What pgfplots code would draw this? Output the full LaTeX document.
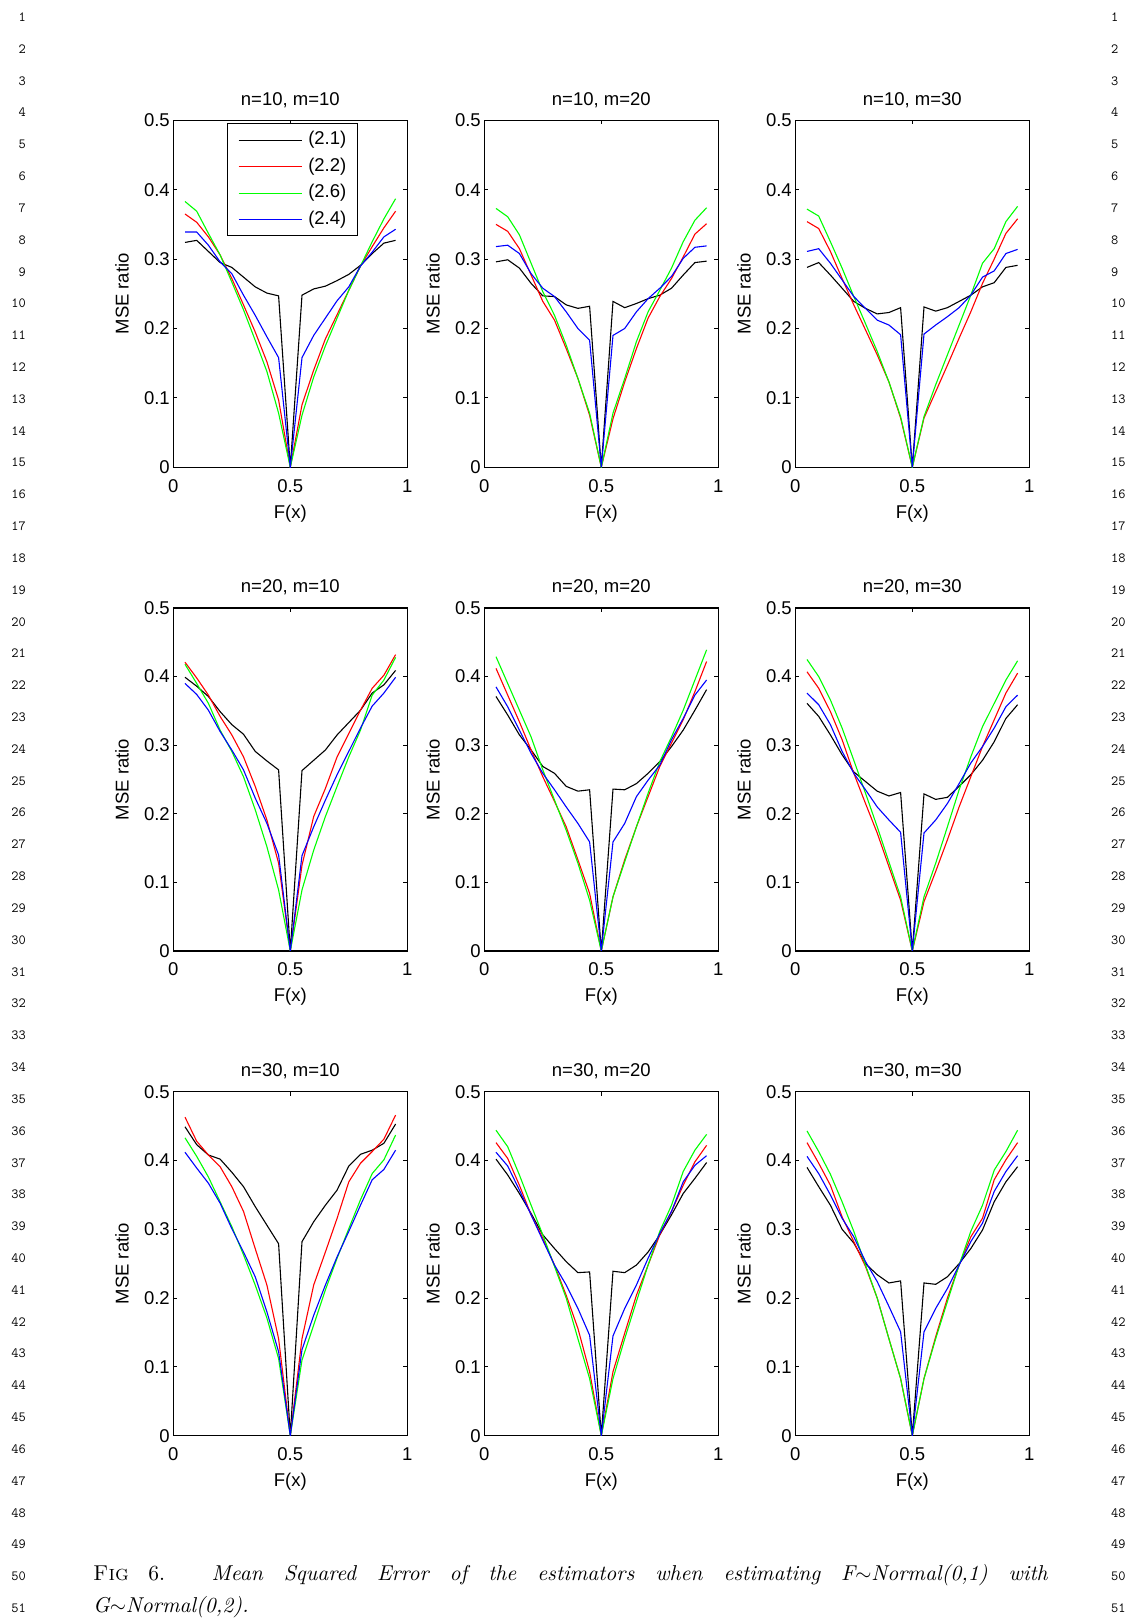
\documentclass[border=0pt]{standalone}
\usepackage{fontspec}
\usepackage{pgfplots}
\usepackage{pgfplotstable}
\pgfplotsset{compat=1.18}
\newfontfamily\axisfont{Liberation Sans}
\newfontfamily\capfont{lmroman10-regular.otf}[ItalicFont=lmroman10-italic.otf, SmallCapsFont=lmromancaps10-regular.otf]
\newcommand{\axfont}{\axisfont\fontsize{18.5}{22}\selectfont}
\newcommand{\lnfont}{\ttfamily\fontsize{14}{14}\selectfont}

\pgfplotstableread{
x b r g u
0.05 .324 .365 .383 .339
0.10 .327 .353 .369 .339
0.15 .311 .332 .337 .320
0.20 .295 .306 .306 .296
0.25 .288 .272 .267 .279
0.30 .274 .234 .227 .248
0.35 .260 .195 .183 .219
0.40 .251 .152 .138 .188
0.45 .247 .097 .078 .158
0.50 0 0 0 0
0.55 .248 .090 .075 .158
0.60 .257 .140 .130 .190
0.65 .261 .185 .175 .215
0.70 .269 .220 .215 .240
0.75 .278 .255 .255 .260
0.80 .291 .290 .290 .290
0.85 .308 .318 .325 .310
0.90 .323 .345 .358 .332
0.95 .327 .369 .387 .343
}\tA
\pgfplotstableread{
x b r g u
0.05 .296 .350 .373 .318
0.10 .299 .340 .361 .320
0.15 .287 .315 .335 .308
0.20 .265 .277 .294 .279
0.25 .247 .239 .253 .258
0.30 .246 .212 .219 .246
0.35 .234 .171 .176 .224
0.40 .229 .128 .128 .200
0.45 .232 .075 .078 .183
0.50 0 0 0 0
0.55 .239 .070 .078 .190
0.60 .230 .123 .128 .200
0.65 .236 .171 .181 .224
0.70 .243 .215 .224 .243
0.75 .248 .246 .255 .258
0.80 .258 .272 .287 .275
0.85 .277 .303 .325 .301
0.90 .295 .336 .356 .317
0.95 .297 .351 .374 .319
}\tB
\pgfplotstableread{
x b r g u
0.05 .288 .354 .372 .311
0.10 .295 .344 .362 .315
0.15 .277 .311 .325 .294
0.20 .258 .272 .287 .270
0.25 .239 .234 .246 .246
0.30 .229 .198 .207 .229
0.35 .221 .162 .167 .212
0.40 .223 .123 .123 .205
0.45 .230 .071 .073 .191
0.50 0 0 0 0
0.55 .231 .071 .073 .192
0.60 .225 .109 .119 .205
0.65 .230 .147 .162 .217
0.70 .239 .186 .205 .230
0.75 .248 .224 .248 .248
0.80 .260 .265 .294 .274
0.85 .266 .300 .315 .283
0.90 .288 .337 .354 .308
0.95 .291 .358 .376 .314
}\tC
\pgfplotstableread{
x b r g u
0.05 .399 .421 .418 .390
0.10 .386 .398 .390 .374
0.15 .371 .373 .361 .351
0.20 .349 .342 .322 .320
0.25 .330 .315 .291 .293
0.30 .316 .283 .254 .264
0.35 .291 .240 .206 .223
0.40 .277 .191 .152 .186
0.45 .264 .128 .089 .140
0.50 0 0 0 0
0.55 .263 .125 .089 .139
0.60 .278 .196 .147 .181
0.65 .293 .237 .196 .220
0.70 .315 .283 .240 .257
0.75 .333 .317 .283 .291
0.80 .351 .351 .322 .325
0.85 .376 .383 .373 .357
0.90 .388 .402 .395 .376
0.95 .409 .432 .428 .399
}\tD
\pgfplotstableread{
x b r g u
0.05 .371 .412 .429 .385
0.10 .344 .373 .390 .356
0.15 .315 .334 .351 .322
0.20 .293 .293 .312 .288
0.25 .269 .254 .264 .259
0.30 .259 .218 .220 .235
0.35 .240 .181 .176 .210
0.40 .233 .133 .128 .186
0.45 .235 .084 .074 .159
0.50 0 0 0 0
0.55 .236 .079 .079 .159
0.60 .235 .133 .130 .186
0.65 .244 .181 .181 .225
0.70 .259 .225 .230 .249
0.75 .276 .269 .276 .271
0.80 .298 .303 .312 .308
0.85 .322 .337 .351 .339
0.90 .351 .378 .395 .373
0.95 .381 .422 .439 .395
}\tE
\pgfplotstableread{
x b r g u
0.05 .361 .407 .425 .376
0.10 .342 .383 .400 .359
0.15 .315 .349 .366 .330
0.20 .286 .308 .325 .291
0.25 .261 .259 .278 .259
0.30 .247 .215 .230 .235
0.35 .233 .172 .181 .210
0.40 .226 .123 .130 .191
0.45 .231 .074 .079 .173
0.50 0 0 0 0
0.55 .229 .072 .079 .172
0.60 .221 .116 .128 .191
0.65 .224 .162 .181 .215
0.70 .240 .210 .235 .244
0.75 .257 .254 .283 .274
0.80 .278 .298 .327 .298
0.85 .305 .337 .361 .325
0.90 .339 .376 .395 .356
0.95 .359 .405 .423 .373
}\tF
\pgfplotstableread{
x b r g u
0.05 .449 .463 .433 .412
0.10 .423 .428 .406 .389
0.15 .408 .408 .376 .367
0.20 .402 .391 .340 .338
0.25 .383 .362 .304 .301
0.30 .362 .326 .263 .267
0.35 .333 .272 .219 .231
0.40 .306 .219 .171 .180
0.45 .279 .141 .112 .122
0.50 0 0 0 0
0.55 .282 .141 .110 .125
0.60 .311 .219 .161 .175
0.65 .335 .267 .212 .219
0.70 .357 .316 .258 .260
0.75 .392 .369 .301 .297
0.80 .409 .396 .343 .335
0.85 .415 .413 .381 .372
0.90 .425 .431 .401 .387
0.95 .453 .466 .437 .415
}\tG
\pgfplotstableread{
x b r g u
0.05 .402 .426 .444 .412
0.10 .379 .403 .420 .392
0.15 .352 .364 .379 .357
0.20 .323 .321 .335 .321
0.25 .292 .287 .292 .284
0.30 .272 .248 .246 .248
0.35 .253 .204 .200 .219
0.40 .237 .156 .141 .185
0.45 .238 .093 .083 .146
0.50 0 0 0 0
0.55 .239 .093 .083 .145
0.60 .237 .149 .141 .185
0.65 .248 .204 .195 .219
0.70 .267 .248 .248 .258
0.75 .292 .292 .297 .294
0.80 .321 .326 .335 .326
0.85 .352 .364 .384 .369
0.90 .374 .398 .415 .393
0.95 .397 .422 .438 .407
}\tH
\pgfplotstableread{
x b r g u
0.05 .390 .426 .443 .406
0.10 .362 .396 .413 .381
0.15 .335 .364 .380 .350
0.20 .300 .318 .340 .316
0.25 .280 .282 .297 .289
0.30 .250 .246 .248 .253
0.35 .234 .200 .200 .224
0.40 .222 .141 .141 .188
0.45 .225 .083 .083 .151
0.50 0 0 0 0
0.55 .222 .083 .083 .151
0.60 .220 .144 .141 .185
0.65 .231 .200 .195 .214
0.70 .250 .248 .248 .248
0.75 .272 .289 .297 .282
0.80 .299 .316 .335 .309
0.85 .340 .372 .386 .355
0.90 .369 .401 .413 .384
0.95 .391 .426 .444 .407
}\tI

\pgfplotsset{
  mse/.style={
    scale only axis, width=234pt, anchor=south west,
    xmin=0, xmax=1, ymin=0, ymax=0.5,
    xtick={0,0.5,1}, xticklabels={0,0.5,1},
    ytick={0,0.1,0.2,0.3,0.4,0.5}, yticklabels={0,0.1,0.2,0.3,0.4,0.5},
    tick align=inside, tick pos=both,
    major tick length=4pt,
    axis line style={line width=1.2pt},
    every tick/.style={black, line width=0.9pt},
    tick label style={font=\axfont},
    xticklabel style={yshift=-8.5pt},
    label style={font=\axfont},
    title style={font=\axfont, at={(axis description cs:0.5,1)}, anchor=center, yshift=14.5pt},
    xlabel={F(x)}, ylabel={MSE ratio},
    xlabel style={at={(axis description cs:0.5,0)}, anchor=center, yshift=-46pt},
    ylabel style={at={(axis description cs:-0.219,0.5)}, anchor=center},
    legend image code/.code={\draw[#1] (0pt,0pt) -- (63pt,0pt);},
  },
  sb/.style={black, line width=1.1pt},
  sr/.style={red, line width=1.1pt},
  sg/.style={green, line width=1.1pt},
  su/.style={blue, line width=1.1pt},
}

\newcommand{\fourlines}[1]{%
  \addplot[sb] table[x=x,y=b]{#1};
  \addplot[sr] table[x=x,y=r]{#1};
  \addplot[sg] table[x=x,y=g]{#1};
  \addplot[su] table[x=x,y=u]{#1};
}

\begin{document}
\begin{tikzpicture}
\path[use as bounding box] (0,0) rectangle (1133pt,1619pt);

% line numbers
\foreach \i in {1,...,51}{
  \pgfmathsetmacro{\yy}{1597.5-(\i-1)*31.82}
  \node[anchor=base east, inner sep=0pt, font=\lnfont] at (26pt,\yy pt) {\i};
  \node[anchor=base west, inner sep=0pt, font=\lnfont] at (1111pt,\yy pt) {\i};
}

% row 1
\begin{axis}[mse, height=347pt, at={(173.3pt,1151.7pt)}, title={n=10, m=10},
  legend style={at={(0.228,0.991)}, anchor=north west, draw=black, line width=1pt,
    font=\axfont, inner xsep=11pt, inner ysep=7.75pt, row sep=9.5pt, column sep=6pt,
    nodes={inner sep=0pt, text height=13pt, text depth=4pt}},
  legend cell align=left]
\fourlines{\tA}
\legend{(2.1),(2.2),(2.6),(2.4)}
\end{axis}
\begin{axis}[mse, height=347pt, at={(484.3pt,1151.7pt)}, title={n=10, m=20}]
\fourlines{\tB}
\end{axis}
\begin{axis}[mse, height=347pt, at={(795.3pt,1151.7pt)}, title={n=10, m=30}]
\fourlines{\tC}
\end{axis}

% row 2
\begin{axis}[mse, height=343pt, at={(173.3pt,668pt)}, title={n=20, m=10}]
\fourlines{\tD}
\end{axis}
\begin{axis}[mse, height=343pt, at={(484.3pt,668pt)}, title={n=20, m=20}]
\fourlines{\tE}
\end{axis}
\begin{axis}[mse, height=343pt, at={(795.3pt,668pt)}, title={n=20, m=30}]
\fourlines{\tF}
\end{axis}

% row 3
\begin{axis}[mse, height=344pt, at={(173.3pt,183.3pt)}, title={n=30, m=10}]
\fourlines{\tG}
\end{axis}
\begin{axis}[mse, height=344pt, at={(484.3pt,183.3pt)}, title={n=30, m=20}]
\fourlines{\tH}
\end{axis}
\begin{axis}[mse, height=344pt, at={(795.3pt,183.3pt)}, title={n=30, m=30}]
\fourlines{\tI}
\end{axis}

% caption
\node[anchor=base west, inner sep=0pt, font=\capfont\fontsize{21.5}{31.82}\selectfont] at (93pt,38.32pt)
  {\makebox[955pt][s]{\textsc{Fig} 6. \textit{Mean Squared Error of the estimators when estimating F$\sim$Normal(0,1) with}}};
\node[anchor=base west, inner sep=0pt, font=\capfont\fontsize{21.5}{31.82}\selectfont] at (93pt,6.5pt)
  {\textit{G$\sim$Normal(0,2).}};
\end{tikzpicture}
\end{document}
